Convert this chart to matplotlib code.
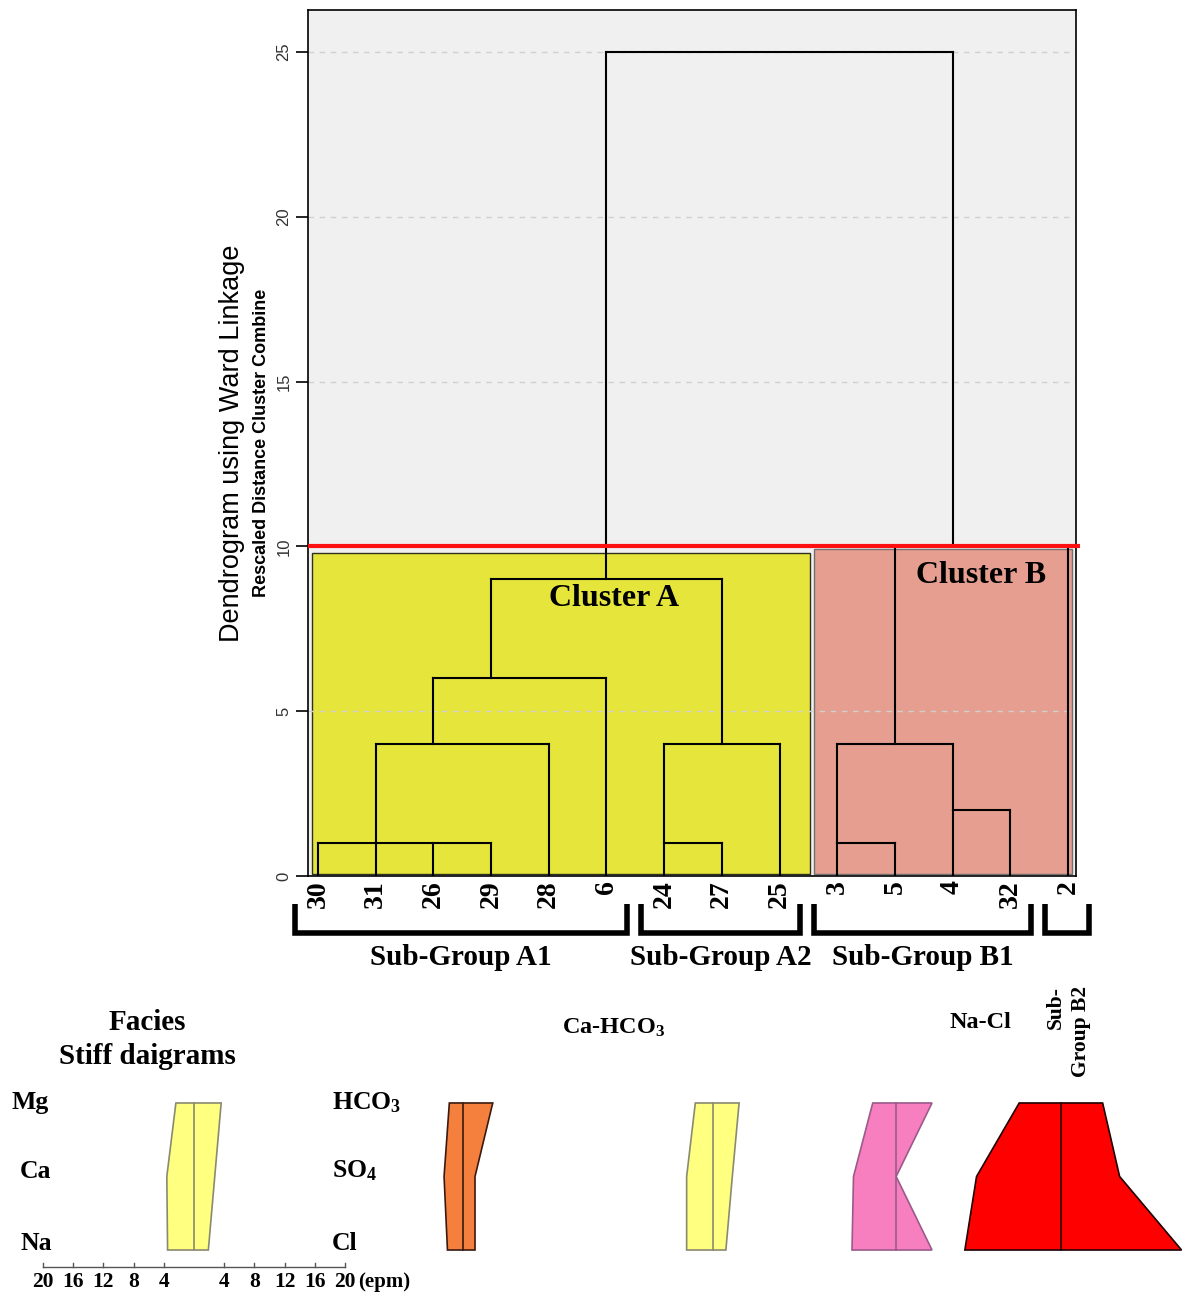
import matplotlib
matplotlib.use("Agg")
import matplotlib.pyplot as plt
from matplotlib.patches import Rectangle, Polygon

plt.rcParams['mathtext.fontset'] = 'custom'
plt.rcParams['mathtext.rm'] = 'Liberation Serif:bold'
plt.rcParams['mathtext.it'] = 'Liberation Serif:bold'
plt.rcParams['mathtext.bf'] = 'Liberation Serif:bold'

SERIF = 'Liberation Serif'
SANS = 'Liberation Sans'

# leaf order along the bottom of the dendrogram
leaves = ["30", "31", "26", "29", "28", "6", "24", "27", "25", "3", "5", "4", "32", "2"]

# merges: children, rescaled distance, leaf the stem rises from
merge_ids = ["a1", "a2", "a3", "a4", "a5", "A", "b1", "b2", "b3", "B", "root"]
merge_children = [["30", "31", "26", "29"], ["a1", "28"], ["a2", "6"],
                  ["24", "27"], ["a4", "25"], ["a3", "a5"],
                  ["3", "5"], ["4", "32"], ["b1", "b2"], ["b3", "2"],
                  ["A", "B"]]
merge_heights = [1.0, 4.0, 6.0, 1.0, 4.0, 9.0, 1.0, 2.0, 4.0, 10.0, 25.0]
merge_stems = ["31", "26", "29", "24", "27", "6", "3", "4", "5", "4", None]

cut_height = 10

# sub-groups (first leaf, last leaf)
subgroups = ["Sub-Group A1", "Sub-Group A2", "Sub-Group B1", "Sub-\nGroup B2"]
subgroup_span = [("30", "6"), ("24", "25"), ("3", "32"), ("2", "2")]

# stiff diagrams, epm: cations (Mg, Ca, Na) left, anions (HCO3, SO4, Cl) right
cations = ["Mg", "Ca", "Na"]
anions = ["HCO$_3$", "SO$_4$", "Cl"]
stiff_names = ["Facies", "A1", "A2", "B1", "B2"]
stiff_cat = [[2.4, 3.6, 3.5], [1.85, 2.55, 2.1], [2.3, 3.45, 3.45], [3.1, 5.65, 5.85], [5.6, 11.25, 12.8]]
stiff_an = [[3.6, 2.75, 1.9], [3.9, 1.55, 1.55], [3.5, 2.6, 1.75], [4.75, 0.0, 4.75], [5.45, 7.7, 15.9]]
stiff_fill = ["#ffff80", "#f5803e", "#ffff80", "#f77fbf", "#ff0000"]
stiff_edge = ["#8a8a70", "#3a1a10", "#8a8a70", "#9a5a8a", "#200000"]
scale_ticks = [4, 8, 12, 16, 20]

W, H = 1183, 1295
fig = plt.figure(figsize=(W / 100, H / 100), dpi=100)


def fx(px):
    return px / W


def fy(py):
    return 1 - py / H


# ---- dendrogram ----
ax = fig.add_axes([fx(308), fy(876), fx(1076) - fx(308), fy(10) - fy(876)])
ax.set_facecolor('#f0f0f0')
ax.set_xlim(-0.173, 13.139)
ax.set_ylim(0, 26.27)

pos = {name: i for i, name in enumerate(leaves)}
base = {name: 0.0 for name in leaves}
for mid, kids, h, stem in zip(merge_ids, merge_children, merge_heights, merge_stems):
    xs = [pos[k] for k in kids]
    for k in kids:
        ax.plot([pos[k], pos[k]], [base[k], h], color='black', lw=1.5, zorder=2)
    ax.plot([min(xs), max(xs)], [h, h], color='black', lw=1.5, zorder=2)
    if stem is not None:
        pos[mid] = pos[stem]
    base[mid] = h

# cluster boxes
ax.add_patch(Rectangle((-0.1, 0.06), 8.63, 9.74, facecolor='#e5e53c',
                       edgecolor='#303020', lw=1.0, zorder=1))
ax.add_patch(Rectangle((8.6, 0.06), 4.47, 9.86, facecolor='#e59e8f',
                       edgecolor='#707070', lw=1.0, zorder=1))
ax.plot([-0.173, 13.2], [cut_height, cut_height], color='#ff1010', lw=3,
        zorder=5, clip_on=False, solid_capstyle='butt')

ax.text(5.13, 8.43, "Cluster A", family=SERIF, weight='bold', fontsize=23,
        ha='center', va='center', zorder=6)
ax.text(11.49, 9.13, "Cluster B", family=SERIF, weight='bold', fontsize=23,
        ha='center', va='center', zorder=6)

ax.yaxis.grid(True, linestyle=(0, (4, 4)), color='#d0d0d0', lw=1)
ax.set_yticks([0, 5, 10, 15, 20, 25])
ax.set_yticklabels(["0", "5", "10", "15", "20", "25"], rotation=90, va='center',
                   family=SANS, fontsize=12, color='#333333')
ax.tick_params(axis='y', length=9, width=1.2, pad=3)
ax.set_xticks(range(len(leaves)))
ax.set_xticklabels(leaves, rotation=90, family=SERIF, weight='bold', fontsize=20)
ax.tick_params(axis='x', length=0, pad=3)
for s in ax.spines.values():
    s.set_linewidth(1.2)

fig.text(fx(232), fy(443), "Dendrogram using Ward Linkage", rotation=90,
         family=SANS, fontsize=19.5, ha='center', va='center')
fig.text(fx(262), fy(443), "Rescaled Distance Cluster Combine", rotation=90,
         family=SANS, weight='bold', fontsize=13, ha='center', va='center')

# sub-group brackets
for name, (a, b) in zip(subgroups, subgroup_span):
    x0, x1 = pos[a] - 0.4, pos[b] + 0.36
    ax.plot([x0, x0, x1, x1], [-0.85, -1.73, -1.73, -0.85], color='black', lw=4,
            clip_on=False, solid_joinstyle='miter', solid_capstyle='butt')
    if "\n" in name:
        fig.text(fx(1068), fy(986), name, rotation=90, family=SERIF, weight='bold',
                 fontsize=15.5, ha='center', va='top', multialignment='right',
                 linespacing=1.35)
    else:
        ax.text((x0 + x1) / 2, -2.46, name, family=SERIF, weight='bold', fontsize=21,
                ha='center', va='center', clip_on=False)

# ---- stiff diagrams ----
bx = fig.add_axes([0, 0, 1, fy(990)])
bx.axis('off')
bx.set_xlim((0 - 194) / 7.55, (W - 194) / 7.55)
bx.set_ylim(2.612, -1.537)

centers = [0.0, 35.67, 68.7, 93.0, 114.9]
rows = [0, 1, 2]
for c, cat, an, fc, ec in zip(centers, stiff_cat, stiff_an, stiff_fill, stiff_edge):
    pts = [(c - v, r) for v, r in zip(cat, rows)]
    pts += [(c + v, r) for v, r in zip(an[::-1], rows[::-1])]
    bx.add_patch(Polygon(pts, closed=True, facecolor=fc, edgecolor=ec, lw=1.2))
    bx.plot([c, c], [rows[0], rows[-1]], color=ec, lw=1.2)

# epm scale
bx.plot([-20, 20], [2.231, 2.231], color='#555555', lw=1)
for t in scale_ticks:
    for side in (-1, 1):
        bx.plot([side * t, side * t], [2.231, 2.18], color='#555555', lw=1)
        bx.text(side * t, 2.43, str(t), family=SERIF, weight='bold', fontsize=15.5,
                ha='center', va='center')
bx.text(21.8, 2.43, "(epm)", family=SERIF, weight='bold', fontsize=15,
        ha='left', va='center')

label_y = [1103, 1171, 1244]
for name, py in zip(cations, label_y):
    fig.text(fx(12) if name == "Mg" else fx(20), fy(py), name, family=SERIF,
             weight='bold', fontsize=18.5, ha='left', va='center')
for name, py in zip(anions, label_y):
    fig.text(fx(332), fy(py), name, family=SERIF, weight='bold', fontsize=18.5,
             ha='left', va='center')

fig.text(fx(147), fy(1022), "Facies", family=SERIF, weight='bold', fontsize=21,
         ha='center', va='center')
fig.text(fx(147), fy(1057), "Stiff daigrams", family=SERIF, weight='bold',
         fontsize=21, ha='center', va='center')
fig.text(fx(614), fy(1028), "Ca-HCO$_3$", family=SERIF, weight='bold',
         fontsize=17.5, ha='center', va='center')
fig.text(fx(980), fy(1023), "Na-Cl", family=SERIF, weight='bold', fontsize=17.5,
         ha='center', va='center')

fig.savefig("out.png", dpi=100)
